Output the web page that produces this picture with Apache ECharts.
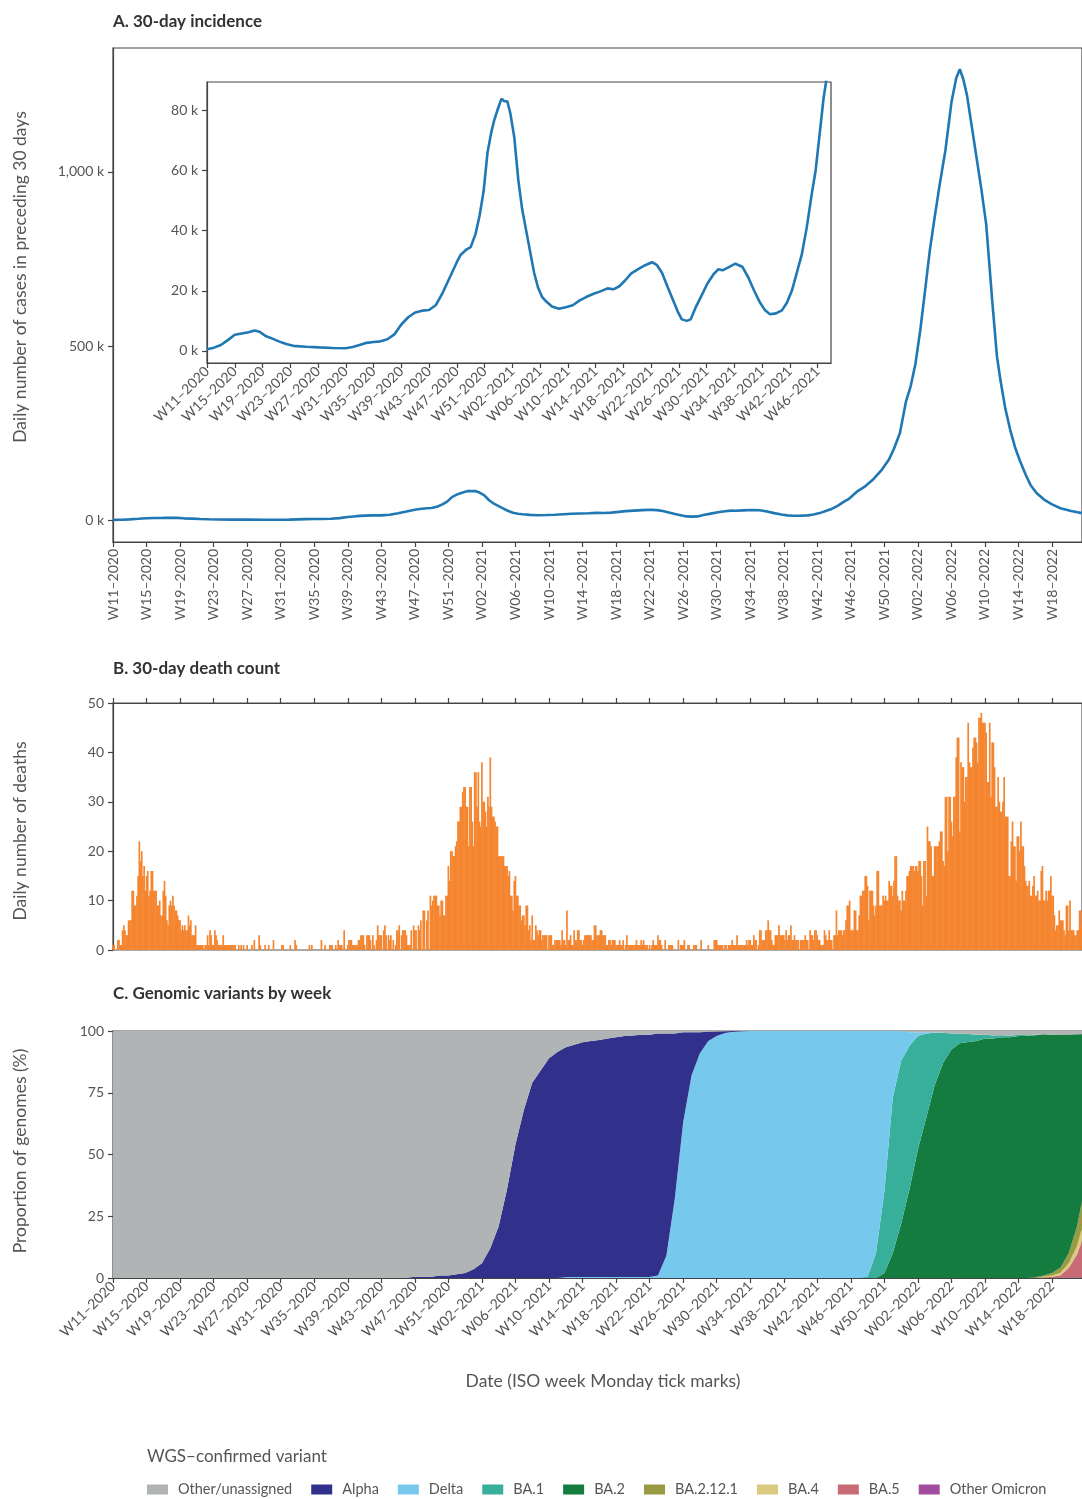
<!DOCTYPE html>
<html><head><meta charset="utf-8">
<script src="https://cdn.jsdelivr.net/npm/echarts@6/dist/echarts.min.js"></script>
<style>html,body{margin:0;padding:0;background:#fff}#c{width:1082px;height:1499px}</style>
</head><body><div id="c"></div><script>
// ---------- axis categories (ISO week Monday ticks, every 4 weeks; day index 0 = Mon 2020-03-09) ----------
const tickLabels = ['W11–2020','W15–2020','W19–2020','W23–2020','W27–2020','W31–2020','W35–2020','W39–2020','W43–2020','W47–2020','W51–2020','W02–2021','W06–2021','W10–2021','W14–2021','W18–2021','W22–2021','W26–2021','W30–2021','W34–2021','W38–2021','W42–2021','W46–2021','W50–2021','W02–2022','W06–2022','W10–2022','W14–2022','W18–2022'];
const lastDay = 809;

// ---------- A. 30-day incidence (day index, thousands of cases) ----------
const incidenceDay = [0,7,14,21,28,35,42,48,53,59,66,73,80,87,100,113,127,140,147,154,161,168,175,182,189,196,203,210,217,224,231,238,245,252,256,262,266,271,275,279,283,287,290,294,297,300,303,306,310,314,318,322,326,330,334,338,342,348,355,362,369,376,383,390,397,404,410,416,422,428,435,442,449,454,459,465,470,475,479,484,488,493,499,505,511,516,520,526,533,540,546,552,558,563,568,574,580,585,590,595,600,605,610,614,618,622,628,635,642,648,652,657,662,666,670,674,678,682,686,690,695,700,704,707,710,713,717,721,725,729,734,738,741,745,749,753,757,762,766,771,778,784,791,800,809];
const incidenceK = [0.6,1.1,2.0,3.6,5.4,5.8,6.2,6.8,6.4,5.0,4.1,3.1,2.3,1.7,1.4,1.2,1.0,0.9,1.3,2.0,2.7,3.0,3.2,3.9,5.5,8.8,11.2,12.8,13.4,13.6,15.3,19.5,24.5,29.5,32.0,33.8,34.5,39,45,53,66,73,77,81,83.8,83,83,79,71,57,47,40,33,26,21,18,16.5,14.8,14,14.5,15.2,16.8,18,19,19.8,20.8,20.5,21.5,23.5,25.8,27.2,28.5,29.5,28.5,26,21,17,13,10.5,10,10.5,14.5,18.5,22.5,25.5,27.2,26.8,27.8,29,28,24.5,20,16,13.5,12.2,12.5,13.5,16,20,26,32,41,52,60,72,84,97,118,145,175,205,250,340,385,450,546,660,776,870,960,1063,1200,1270,1295,1265,1220,1130,1040,950,850,632,470,400,320,260,210,172,130,101,78,57,45,34,26,20];

// ---------- B. 30-day death count (daily, from day 0) ----------
const deaths = [
1,1,0,0,2,2,1,1,4,5, 4,3,3,6,6,6,12,12,9,9, 11,15,22,18,20,15,17,12,15,16, 11,12,16,16,12,12,12,9,9,10,
7,7,12,14,11,6,5,9,10,9, 11,9,8,8,7,6,6,4,5,4, 5,4,4,7,5,6,3,3,3,5, 1,1,1,1,1,1,0,1,1,3,
1,4,3,1,1,4,3,2,1,1, 1,1,3,1,1,1,1,1,1,1, 1,1,1,0,0,1,0,1,0,1, 0,0,1,0,0,0,1,0,2,0,
0,0,3,1,0,0,0,1,0,0, 1,0,0,0,2,0,0,0,0,0, 0,1,1,0,0,0,0,0,1,0, 0,0,2,1,0,0,0,0,0,0,
0,0,0,0,1,0,1,0,0,0, 0,0,0,0,2,0,0,1,0,0, 0,1,1,1,0,0,1,0,2,1, 1,1,0,4,0,0,1,2,2,2,
1,1,1,1,1,2,2,3,3,3, 1,0,3,3,3,2,0,3,1,0, 2,5,3,3,3,0,4,5,3,0, 3,2,3,0,2,0,1,4,4,5,
0,3,4,4,4,3,1,1,1,4, 0,5,4,4,0,5,4,6,0,8, 8,0,6,8,0,11,9,10,11,11, 11,9,9,7,10,10,7,7,11,11,
17,14,20,20,19,19,21,22,26,26, 29,29,32,33,33,29,29,21,33,33, 26,21,36,36,29,36,26,25,38,30, 30,28,25,31,29,39,29,27,27,26,
25,25,19,19,19,19,19,17,17,17, 15,16,11,11,8,14,15,11,11,9, 9,6,7,7,5,9,9,4,5,2, 7,2,2,5,4,3,4,4,2,3,
3,3,3,0,3,3,3,1,1,2, 2,2,2,2,1,4,2,2,1,8, 2,2,3,1,1,4,2,2,4,4, 2,2,1,2,3,3,3,3,3,3,
2,2,5,5,3,3,3,4,4,3, 3,3,1,1,2,2,1,2,2,2, 1,1,1,2,1,1,2,0,1,3, 1,1,1,1,1,1,1,2,1,1,
1,2,1,2,1,1,1,0,1,0, 1,2,1,1,1,3,2,2,1,0, 0,2,0,0,1,1,1,1,0,0, 0,0,2,0,1,1,1,2,0,0,
1,1,0,0,0,1,1,1,0,0, 0,2,0,0,0,0,0,1,0,0, 0,0,2,2,2,1,1,1,1,1, 0,1,1,0,1,1,1,2,1,1,
1,3,1,1,1,1,1,1,1,2, 1,2,2,1,1,3,2,2,0,1, 4,4,2,2,2,4,4,6,4,4, 2,1,1,3,3,3,5,3,3,3,
3,2,4,2,3,3,5,2,2,3, 2,2,2,0,2,2,2,2,3,2, 2,0,4,3,3,2,4,4,3,2, 2,1,1,1,4,3,2,2,4,2,
2,0,3,3,8,3,4,4,4,3, 4,4,6,9,9,10,4,4,4,8, 8,4,4,7,11,11,12,12,15,15, 13,6,12,12,12,9,7,9,16,16,
9,9,9,11,10,11,10,10,14,13, 13,11,14,19,19,11,10,10,8,12, 10,10,12,15,15,16,17,17,17,16, 17,17,16,18,18,15,9,18,18,11,
25,22,22,21,15,15,21,21,21,21, 22,24,24,18,17,31,31,20,31,31, 26,23,31,31,39,43,43,24,38,37, 37,30,35,35,46,38,37,37,41,43,
43,42,38,47,47,48,46,46,46,44, 34,34,46,31,42,42,37,29,29,35, 30,28,28,30,35,27,27,27,15,15, 22,26,21,21,14,23,23,20,26,21,
21,17,14,13,13,14,11,11,13,15, 11,11,12,10,10,16,17,10,10,12, 10,12,12,15,11,11,7,4,5,5, 8,6,6,6,4,3,9,9,4,10,
4,4,4,3,3,4,4,8,8,5
];

// ---------- C. Genomic variants (% of genomes, sampled weekly from day 0, plus last day) ----------
const zeros = n => new Array(n).fill(0);
const hundreds = n => new Array(n).fill(100);
const variantDay = Array.from({length: 116}, (_, i) => i * 7).concat([lastDay]);
const otherUnassigned = [...hundreds(36), 99.5,99.5,99.5,99,99,98.5,98,96.5,94,88, 79,64,46,32,21,16,11,8.5,6.6,5.6, 4.6,4,3.6,3,2.5,2,1.8,1.5,1.5,1, 1,1,0.5,0.5,0.5,0.3,0.2,0.1, ...zeros(21), 0.5,0.5,0.5,0.5,0.7,1,1,1.2,1.5,1.5,1.8,1.7,1.9,1.5,1.7,1.5,1.3,1.5,1.4,1.4,1.3, 1.3];
const alpha = [...zeros(36), 0.5,0.5,0.5,1,1,1.5,2,3.5,6,12, 21,36,54,68,79,84,89,91.5,93,94, 95,95.6,96,96.6,97.1,97.6,97.8,98.1,98.1,98, 90,67,36.5,17.5,8.5,3.7,1.8,0.7,0.3,0.1, ...zeros(41)];
const delta = [...zeros(54), 0.4,0.4,0.4,0.4,0.4,0.4,0.4,0.4,0.4,0.4,0.4, 1,9,32,63,82,91,96,98,99.2,99.7,99.9, ...hundreds(14), 99.5,90,65,27,12,5.5,1.5,0.5,0.2, ...zeros(18)];
const ba1 = [...zeros(90), 0.5,10,33,63,66,58,46,34,21.3,12.3, 6.5,4,3.3,2.5,1.5,1.2,0.8,0.6,0.5,0.3, 0.2, ...zeros(6)];
const ba2 = [...zeros(92), 2,10,22,36,52,65,78,87, 92.5,95,95.5,96,97,97,97.5,97.5,98,98, 98,97.7,96.5,94.5,88.5,77.5, 67.5];
const ba2121 = [...zeros(110), 0.3,0.5,1,2,4,8, 11];
const ba4 = [...zeros(111), 0.3,0.5,1,2,3.5, 5];
const ba5 = [...zeros(111), 0.2,0.5,1,4,9.5, 15];
const otherOmicron = [...zeros(113), 0.1,0.1,0.2, 0.2];

const variantNames = ['Other/unassigned','Alpha','Delta','BA.1','BA.2','BA.2.12.1','BA.4','BA.5','Other Omicron'];
const variantValues = [otherUnassigned, alpha, delta, ba1, ba2, ba2121, ba4, ba5, otherOmicron];
const variantColors = ['#b1b4b5','#31318b','#76c9ed','#37af9b','#157c3f','#9a9a42','#dbc97f','#c96b77','#a24c9e'];

// ---------- build ----------
const FONT = 'Lato';
const DAY = 86400000;
const T0 = Date.UTC(2020, 2, 9);
const tickDays = tickLabels.map((_, i) => i * 28);
const insetTickDays = tickDays.slice(0, 23);
const dayLabel = v => tickLabels[Math.round(v / 28)] || '';
const kLabel = v => (v / 1000).toLocaleString('en-US') + ' k';
const axisLineStyle = { color: '#444', width: 1.2 };
const labelStyle = { color: '#555', fontSize: 14, fontFamily: FONT };

function xAxis(grid, max, ticks, extra) {
  return Object.assign({
    type: 'value', gridIndex: grid, min: 0, max: max,
    axisLine: { show: true, onZero: false, lineStyle: axisLineStyle },
    axisTick: { show: true, length: 5, customValues: ticks, lineStyle: axisLineStyle },
    axisLabel: Object.assign({ customValues: ticks, formatter: dayLabel, margin: 6 }, labelStyle),
    splitLine: { show: false }
  }, extra || {});
}
function yAxis(grid, min, max, opts) {
  return Object.assign({
    type: 'value', gridIndex: grid, min: min, max: max,
    axisLine: { show: true, lineStyle: axisLineStyle },
    axisTick: { show: true, length: 5, lineStyle: axisLineStyle },
    axisLabel: Object.assign({ margin: 9 }, labelStyle),
    splitLine: { show: false }
  }, opts || {});
}

const incPairs = incidenceDay.map((d, i) => [d, incidenceK[i] * 1000]);
const deathPairs = deaths.map((v, i) => [i, v]);

const series = [
  { type: 'line', name: 'Incidence', xAxisIndex: 0, yAxisIndex: 0, data: incPairs, symbol: 'none',
    lineStyle: { color: '#1f78b4', width: 2.6 }, itemStyle: { color: '#1f78b4' } },
  { type: 'line', name: 'Incidence (inset)', xAxisIndex: 1, yAxisIndex: 1, data: incPairs, symbol: 'none', clip: true,
    lineStyle: { color: '#1f78b4', width: 2.6 }, itemStyle: { color: '#1f78b4' } },
  { type: 'bar', name: 'Deaths', xAxisIndex: 2, yAxisIndex: 2, data: deathPairs, barWidth: 1.7,
    itemStyle: { color: '#f5852f' } }
];
// stacked areas use a hidden time axis (so that the y values, not x, are stacked); bottom-to-top = reverse legend order
for (let k = variantNames.length - 1; k >= 0; k--) {
  series.push({
    type: 'line', name: variantNames[k], xAxisIndex: 4, yAxisIndex: 3, stack: 'variants',
    data: variantDay.map((d, i) => [T0 + d * DAY, variantValues[k][i]]),
    symbol: 'none', lineStyle: { width: 0 }, areaStyle: { color: variantColors[k], opacity: 1 },
    itemStyle: { color: variantColors[k] }, clip: true
  });
}

const titleStyle = { fill: '#333', font: 'bold 17px ' + FONT, textVerticalAlign: 'top' };
const nameStyle = { fill: '#555', font: '17.5px ' + FONT, textAlign: 'center', textVerticalAlign: 'middle' };
const kTicks = (vals) => ({ axisTick: { show: true, length: 5, lineStyle: axisLineStyle, customValues: vals },
  axisLabel: Object.assign({ customValues: vals, formatter: kLabel, margin: 9 }, labelStyle) });

const option = {
  animation: false,
  textStyle: { fontFamily: FONT },
  grid: [
    { left: 113, top: 48, width: 969, height: 494, show: true, borderColor: '#444', borderWidth: 1.2 },
    { left: 207, top: 82, width: 624, height: 281, show: true, borderColor: '#444', borderWidth: 1.2, backgroundColor: '#fff' },
    { left: 113, top: 703, width: 969, height: 247, show: true, borderColor: '#555', borderWidth: 1.2 },
    { left: 113, top: 1031, width: 969, height: 247, show: true, borderColor: '#555', borderWidth: 1.2 }
  ],
  xAxis: [
    xAxis(0, lastDay, tickDays, { axisLabel: Object.assign({ customValues: tickDays, formatter: dayLabel, rotate: 90, margin: 7 }, labelStyle) }),
    xAxis(1, 629.5, insetTickDays, { axisLabel: Object.assign({ customValues: insetTickDays, formatter: dayLabel, rotate: 45, margin: 6 }, labelStyle) }),
    xAxis(2, lastDay, tickDays, { position: 'top', axisLabel: { show: false } }),
    xAxis(3, lastDay, tickDays, { axisLabel: Object.assign({ customValues: tickDays, formatter: dayLabel, rotate: 45, margin: 6 }, labelStyle) }),
    { type: 'time', gridIndex: 3, min: T0, max: T0 + lastDay * DAY, show: false }
  ],
  yAxis: [
    yAxis(0, -63000, 1356000, kTicks([0, 500000, 1000000])),
    yAxis(1, -4000, 89400, kTicks([0, 20000, 40000, 60000, 80000])),
    yAxis(2, 0, 50, { interval: 10 }),
    yAxis(3, 0, 100, { interval: 25 })
  ],
  legend: {
    data: variantNames, left: 147, top: 1482, padding: 0, itemWidth: 21, itemHeight: 10, itemGap: 19,
    icon: 'rect', selectedMode: false,
    textStyle: { color: '#555', fontSize: 14.5, fontFamily: FONT, padding: [0, 0, 0, 5] }
  },
  graphic: [
    { type: 'text', left: 113, top: 13, style: Object.assign({ text: 'A. 30-day incidence' }, titleStyle) },
    { type: 'text', left: 113, top: 660, style: Object.assign({ text: 'B. 30-day death count' }, titleStyle) },
    { type: 'text', left: 113, top: 985, style: Object.assign({ text: 'C. Genomic variants by week' }, titleStyle) },
    { type: 'text', x: 20, y: 277, rotation: Math.PI / 2, style: Object.assign({ text: 'Daily number of cases in preceding 30 days' }, nameStyle) },
    { type: 'text', x: 20, y: 831, rotation: Math.PI / 2, style: Object.assign({ text: 'Daily number of deaths' }, nameStyle) },
    { type: 'text', x: 20, y: 1151, rotation: Math.PI / 2, style: Object.assign({ text: 'Proportion of genomes (%)' }, nameStyle) },
    { type: 'text', x: 603, y: 1381, style: Object.assign({ text: 'Date (ISO week Monday tick marks)' }, nameStyle) },
    { type: 'text', x: 147, y: 1457, style: Object.assign({ text: 'WGS–confirmed variant' }, nameStyle, { textAlign: 'left', font: '17px ' + FONT }) }
  ],
  series: series
};

const chart = echarts.init(document.getElementById('c'), null, { renderer: 'canvas' });
chart.setOption(option);
</script></body></html>
